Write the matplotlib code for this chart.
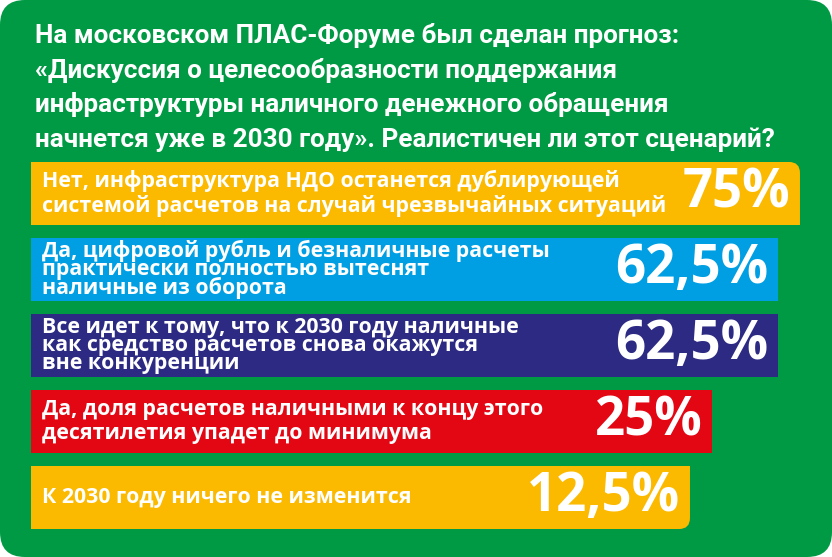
import matplotlib.pyplot as plt
from matplotlib.patches import FancyBboxPatch
from matplotlib.transforms import IdentityTransform

title_lines = [
    "На московском ПЛАС-Форуме был сделан прогноз:",
    "«Дискуссия о целесообразности поддержания",
    "инфраструктуры наличного денежного обращения",
    "начнется уже в 2030 году». Реалистичен ли этот сценарий?",
]

labels = [
    "Нет, инфраструктура НДО останется дублирующей\nсистемой расчетов на случай чрезвычайных ситуаций",
    "Да, цифровой рубль и безналичные расчеты\nпрактически полностью вытеснят\nналичные из оборота",
    "Все идет к тому, что к 2030 году наличные\nкак средство расчетов снова окажутся\nвне конкуренции",
    "Да, доля расчетов наличными к концу этого\nдесятилетия упадет до минимума",
    "К 2030 году ничего не изменится",
]
values = [75, 62.5, 62.5, 25, 12.5]
pct_text = ["75%", "62,5%", "62,5%", "25%", "12,5%"]
colors = ["#fbb900", "#009fe3", "#2d2a83", "#e30613", "#fbb900"]

green = "#009a44"
offset = 362   # bars start this far left of zero (infographic style)

fig = plt.figure(figsize=(8.32, 5.57), dpi=100)
fig.patch.set_facecolor("white")

ax = fig.add_axes([0, 0, 1, 1])
ax.set_axis_off()
ax.patch.set_alpha(0)

bg = FancyBboxPatch((0, 0), 1, 1, boxstyle="round,pad=0,rounding_size=0.03",
                    mutation_aspect=832 / 557, transform=ax.transAxes,
                    facecolor=green, edgecolor="none", zorder=0)
ax.add_patch(bg)

y = list(range(len(values)))
bars = ax.barh(y, [v + offset for v in values], left=-offset, height=0.83,
               color=colors, edgecolor="none", zorder=2)
ax.set_xlim(-379.6, 93.2)
ax.set_ylim(4.783, -2.546)

# round the top-right corner of the first bar and bottom-right of the last
def round_corner(bar, top):
    (x0, y0), (x1, y1) = ax.transData.transform(
        [(bar.get_x(), bar.get_y()), (bar.get_x() + bar.get_width(), bar.get_y() + bar.get_height())])
    lo, hi = min(y0, y1), max(y0, y1)
    if top:
        lo -= 30
    else:
        hi += 30
    clip = FancyBboxPatch((x0 - 30, lo), x1 - x0 + 30, hi - lo,
                          boxstyle="round,pad=0,rounding_size=11",
                          transform=IdentityTransform())
    bar.set_clip_path(clip)

round_corner(bars[0], True)
round_corner(bars[-1], False)

for i, (lab, pt, v) in enumerate(zip(labels, pct_text, values)):
    n = lab.count("\n") + 1
    ax.annotate(lab, (-offset, i), xytext=(8, 0), textcoords="offset points",
                ha="left", va="center", color="white", fontsize=15.4,
                fontfamily="Open Sans", fontweight="bold",
                linespacing=0.82 if n == 3 else 1.22, zorder=3)
    ax.annotate(pt, (v, i), xytext=(-7, 0), textcoords="offset points",
                ha="right", va="center", color="white", fontsize=38,
                fontfamily="Open Sans", fontweight="bold", zorder=3)

for k, line in enumerate(title_lines):
    fig.text(35 / 832, 1 - (43 + 34.7 * k) / 557, line, ha="left", va="baseline",
             color="white", fontsize=18.8, fontfamily="Roboto", fontweight="bold")

fig.savefig("out.png", dpi=100)
